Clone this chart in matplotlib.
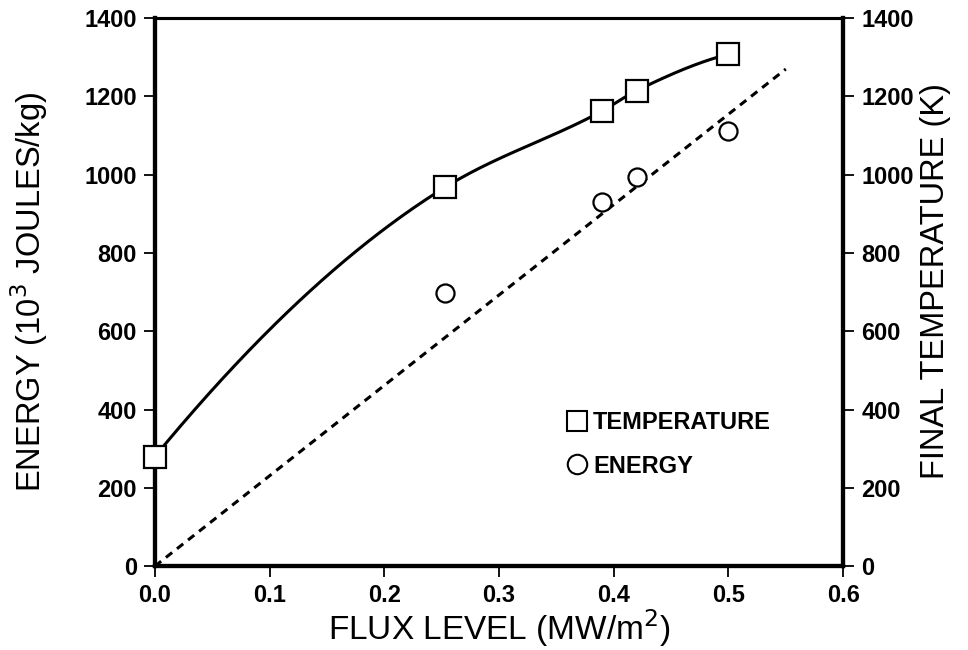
import numpy as np
import matplotlib
matplotlib.use("Agg")
import matplotlib.pyplot as plt
from matplotlib.lines import Line2D

plt.rcParams['font.family'] = ['Liberation Sans', 'DejaVu Sans']

# measured points
flux = [0.0, 0.253, 0.39, 0.42, 0.5]
temperature = [280, 968, 1163, 1215, 1308]
flux_energy = [0.253, 0.39, 0.42, 0.5]
energy = [697, 930, 993, 1112]

# straight-line energy estimate
fit_flux = [0.0, 0.55]
fit_energy = [0.0, 1270]

xticks = [0.0, 0.1, 0.2, 0.3, 0.4, 0.5, 0.6]
yticks = [0, 200, 400, 600, 800, 1000, 1200, 1400]


def pchip(x, y, xs):
    # monotone cubic hermite through the points, for the smooth temperature curve
    x = np.asarray(x, float)
    y = np.asarray(y, float)
    h = np.diff(x)
    d = np.diff(y) / h
    m = np.zeros_like(y)
    for k in range(1, len(x) - 1):
        if d[k - 1] * d[k] > 0:
            w1 = 2 * h[k] + h[k - 1]
            w2 = h[k] + 2 * h[k - 1]
            m[k] = (w1 + w2) / (w1 / d[k - 1] + w2 / d[k])
    m[0] = ((2 * h[0] + h[1]) * d[0] - h[0] * d[1]) / (h[0] + h[1])
    m[-1] = ((2 * h[-1] + h[-2]) * d[-1] - h[-1] * d[-2]) / (h[-1] + h[-2])
    idx = np.clip(np.searchsorted(x, xs) - 1, 0, len(h) - 1)
    t = (xs - x[idx]) / h[idx]
    h00 = 2 * t**3 - 3 * t**2 + 1
    h10 = t**3 - 2 * t**2 + t
    h01 = -2 * t**3 + 3 * t**2
    h11 = t**3 - t**2
    return (h00 * y[idx] + h10 * h[idx] * m[idx] + h01 * y[idx + 1]
            + h11 * h[idx] * m[idx + 1])


fig = plt.figure(figsize=(9.68, 6.5), dpi=100)
ax = fig.add_axes([0.160, 0.129, 0.711, 0.843])
ax2 = ax.twinx()

# energy: dashed fit and open circles
ax.plot(fit_flux, fit_energy, color='black', lw=2.2, dashes=(2.6, 2.0),
        zorder=2)
ax.plot(flux_energy, energy, linestyle='none', marker='o', ms=13,
        mfc='white', mec='black', mew=1.6, zorder=3)

# temperature: smooth curve through squares
xs = np.linspace(flux[0], flux[-1], 300)
ax2.plot(xs, pchip(flux, temperature, xs), color='black', lw=2.2, zorder=2)
ax2.plot(flux, temperature, linestyle='none', marker='s', ms=16,
         mfc='white', mec='black', mew=1.6, zorder=3, clip_on=False)

for a in (ax, ax2):
    a.set_xlim(0, 0.6)
    a.set_ylim(0, 1400)
    a.set_yticks(yticks)
    for side in ('left', 'bottom', 'right'):
        a.spines[side].set_linewidth(3.0)
    a.spines['top'].set_linewidth(2.2)

ax.set_xticks(xticks)
ax.set_xticklabels(['%.1f' % v for v in xticks])
ax.tick_params(axis='both', direction='out', length=8, width=1.3,
               labelsize=17, pad=5)
ax2.tick_params(axis='y', direction='out', length=8, width=1.3,
                labelsize=17, pad=5)
for lab in ax.get_xticklabels() + ax.get_yticklabels() + ax2.get_yticklabels():
    lab.set_fontweight('bold')

ax.set_xlabel('FLUX LEVEL (MW/m$^2$)', fontsize=24)
ax.set_ylabel('ENERGY (10$^3$ JOULES/kg)', fontsize=23.5)
ax2.set_ylabel('FINAL TEMPERATURE (K)', fontsize=23.5)
ax.xaxis.set_label_coords(0.5, -0.075)
ax.yaxis.set_label_coords(-0.152, 0.5)
ax2.yaxis.set_label_coords(1.112, 0.52)

handles = [
    Line2D([], [], linestyle='none', marker='s', ms=15, mfc='white',
           mec='black', mew=1.5),
    Line2D([], [], linestyle='none', marker='o', ms=14, mfc='white',
           mec='black', mew=1.5),
]
leg = ax2.legend(handles, ['TEMPERATURE', 'ENERGY'], loc='center left',
                 bbox_to_anchor=(0.582, 0.222), frameon=False, borderpad=0,
                 prop={'size': 17, 'weight': 'bold'}, handlelength=0.8,
                 handletextpad=0.3, labelspacing=0.85)

fig.savefig('out.png', dpi=100)
